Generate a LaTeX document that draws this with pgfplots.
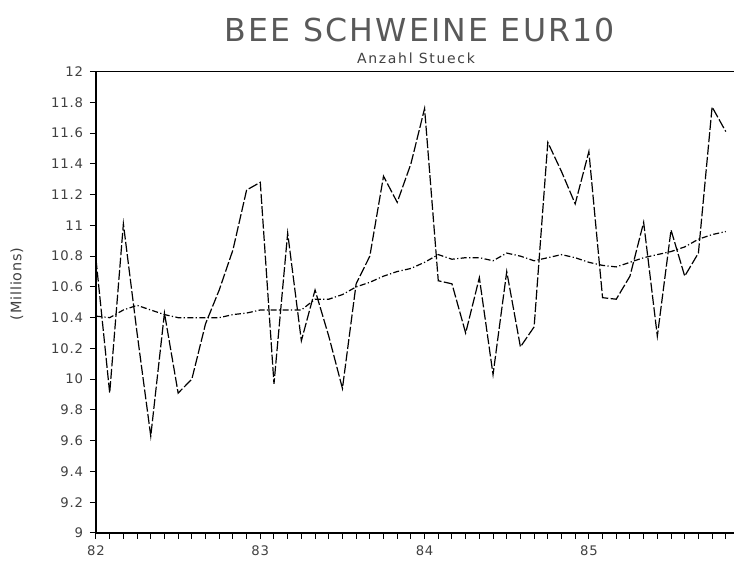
\documentclass[border=0pt]{standalone}
\usepackage{fontspec}
\setmainfont{DejaVu Sans}
\newfontfamily\titlefont[LetterSpace=7]{DejaVu Sans}
\newfontfamily\subfont[LetterSpace=12]{DejaVu Sans}
\newfontfamily\tickfont[LetterSpace=6]{DejaVu Sans}
\usepackage{pgfplots}
\pgfplotsset{compat=1.18}
% months from Jan 1982 (0) on
\pgfplotstableread{
m v
0 10.78
1 9.91
2 11.01
3 10.30
4 9.63
5 10.43
6 9.91
7 10.00
8 10.36
9 10.58
10 10.84
11 11.23
12 11.28
13 9.97
14 10.95
15 10.25
16 10.58
17 10.28
18 9.94
19 10.62
20 10.80
21 11.32
22 11.15
23 11.40
24 11.76
25 10.64
26 10.62
27 10.30
28 10.66
29 10.03
30 10.70
31 10.21
32 10.34
33 11.54
34 11.35
35 11.14
36 11.48
37 10.53
38 10.52
39 10.67
40 11.02
41 10.28
42 10.97
43 10.67
44 10.82
45 11.77
46 11.61
}\monthly
\pgfplotstableread{
m v
0 10.41
1 10.40
2 10.45
3 10.48
4 10.45
5 10.42
6 10.40
7 10.40
8 10.40
9 10.40
10 10.42
11 10.43
12 10.45
13 10.45
14 10.45
15 10.45
16 10.52
17 10.52
18 10.55
19 10.60
20 10.63
21 10.67
22 10.70
23 10.72
24 10.76
25 10.81
26 10.78
27 10.79
28 10.79
29 10.77
30 10.82
31 10.80
32 10.77
33 10.79
34 10.81
35 10.79
36 10.76
37 10.74
38 10.73
39 10.76
40 10.79
41 10.81
42 10.83
43 10.86
44 10.91
45 10.94
46 10.96
}\trend
\begin{document}
\begin{tikzpicture}
\begin{axis}[
    at={(0,0)}, anchor=south west,
    scale only axis, width=319pt, height=230.7pt,
    xmin=0, xmax=46.6, ymin=9, ymax=12,
    axis x line*=bottom, axis y line*=left,
    axis line style={-, line width=0.6pt},
    tick align=outside,
    major tick length=3pt, minor tick length=3pt,
    tick style={black, line width=0.5pt},
    xtick={0,12,24,36}, xticklabels={82,83,84,85},
    minor xtick={1,...,46},
    ytick={9,9.2,9.4,9.6,9.8,10,10.2,10.4,10.6,10.8,11,11.2,11.4,11.6,11.8,12},
    yticklabels={9,9.2,9.4,9.6,9.8,10,10.2,10.4,10.6,10.8,11,11.2,11.4,11.6,11.8,12},
    ticklabel style={font=\tickfont\fontsize{6.6}{8}\selectfont, text=black!75},
    /pgf/number format/assume math mode=true,
    ylabel={(Millions)},
    y label style={at={(axis description cs:-0.124,0.54)}, anchor=center,
        font=\tickfont\fontsize{7.2}{8}\selectfont, text=black!75},
    clip=false,
]
\addplot[black, line width=0.6pt, dash pattern=on 5pt off 1.2pt] table[x=m, y=v] {\monthly};
\addplot[black, line width=0.6pt, dash pattern=on 3pt off 1.2pt on 0.6pt off 1.2pt] table[x=m, y=v] {\trend};
\draw[line width=0.6pt] (rel axis cs:0,1) -- (rel axis cs:1,1);
\end{axis}
\node[font=\titlefont\fontsize{15.8}{18}\selectfont, text=black!65] at (162pt,251.5pt) {BEE SCHWEINE EUR10};
\node[font=\subfont\fontsize{7}{9}\selectfont, text=black!75] at (160pt,237.5pt) {Anzahl Stueck};
\pgfresetboundingbox
\path[use as bounding box] (-48pt,-14pt) rectangle (319pt,266.5pt);
\end{tikzpicture}
\end{document}
